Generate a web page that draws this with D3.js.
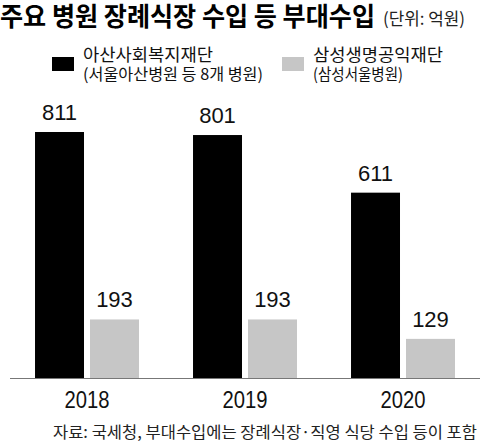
<!DOCTYPE html>
<html>
<head>
<meta charset="utf-8">
<script src="https://cdn.jsdelivr.net/npm/d3@7"></script>
<style>
  body { margin: 0; background: #fff; }
  .kr { font-family: "Noto Sans CJK KR", "Noto Sans", sans-serif; }
  .num { font-family: "Liberation Sans", Arial, sans-serif; }
</style>
</head>
<body>
<div id="chart"></div>
<script>
var years = ["2018", "2019", "2020"];
var seriesNames = ["아산사회복지재단", "삼성생명공익재단"];
var seriesSubs = ["(서울아산병원 등 8개 병원)", "(삼성서울병원)"];
var asan = [811, 801, 611];
var samsung = [193, 193, 129];
var colors = ["#000000", "#c6c6c6"];

var width = 480, height = 442;
var baseY = 378;

var svg = d3.select("#chart").append("svg")
    .attr("width", width)
    .attr("height", height);

// title
svg.append("text")
    .attr("class", "kr")
    .attr("x", 0)
    .attr("y", 26)
    .attr("font-size", 26)
    .attr("font-weight", 700)
    .attr("textLength", 375)
    .attr("lengthAdjust", "spacingAndGlyphs")
    .text("주요 병원 장례식장 수입 등 부대수입");

svg.append("text")
    .attr("class", "kr")
    .attr("x", 383)
    .attr("y", 25)
    .attr("font-size", 17)
    .attr("textLength", 82)
    .attr("lengthAdjust", "spacingAndGlyphs")
    .attr("fill", "#222")
    .text("(단위: 억원)");

// legend
var legendX = [52, 282];
var legend = svg.selectAll(".legend")
    .data(seriesNames)
    .join("g")
    .attr("class", "legend")
    .attr("transform", (d, i) => `translate(${legendX[i]},0)`);

legend.append("rect")
    .attr("x", 0).attr("y", 57)
    .attr("width", 22).attr("height", 14)
    .attr("fill", (d, i) => colors[i]);

var ltext = legend.append("text")
    .attr("class", "kr")
    .attr("fill", "#111");

ltext.append("tspan")
    .attr("x", 31).attr("y", 61)
    .attr("font-size", 17)
    .attr("textLength", 130)
    .attr("lengthAdjust", "spacingAndGlyphs")
    .text(d => d);

ltext.append("tspan")
    .attr("x", 31).attr("y", 80)
    .attr("font-size", 16)
    .attr("textLength", (d, i) => i == 0 ? 180 : 90)
    .attr("lengthAdjust", "spacingAndGlyphs")
    .text((d, i) => seriesSubs[i]);

// scales
var x0 = d3.scaleBand()
    .domain(years)
    .range([8, 482])
    .paddingInner(0.342)
    .paddingOuter(0.171);

var x1 = d3.scaleBand()
    .domain([0, 1])
    .range([0, x0.bandwidth()])
    .paddingInner(0.109);

var y = d3.scaleLinear()
    .domain([0, 811])
    .range([baseY, 132]);

var data = years.map((yr, i) => ({ year: yr, values: [asan[i], samsung[i]] }));

var groups = svg.selectAll(".grp")
    .data(data)
    .join("g")
    .attr("class", "grp")
    .attr("transform", d => `translate(${x0(d.year)},0)`);

groups.selectAll("rect")
    .data(d => d.values)
    .join("rect")
    .attr("x", (d, i) => x1(i))
    .attr("y", d => y(d))
    .attr("width", x1.bandwidth())
    .attr("height", d => baseY - y(d))
    .attr("fill", (d, i) => colors[i]);

groups.selectAll(".val")
    .data(d => d.values)
    .join("text")
    .attr("class", "val num")
    .attr("x", (d, i) => x1(i) + x1.bandwidth() / 2)
    .attr("y", d => y(d) - 12)
    .attr("text-anchor", "middle")
    .attr("font-size", 22)
    .attr("fill", "#111")
    .text(d => d);

// baseline
svg.append("line")
    .attr("x1", 10).attr("x2", 480)
    .attr("y1", baseY + 0.5).attr("y2", baseY + 0.5)
    .attr("stroke", "#777")
    .attr("stroke-width", 1);

// year labels
svg.selectAll(".year")
    .data(years)
    .join("text")
    .attr("class", "year num")
    .attr("x", d => x0(d) + x0.bandwidth() / 2 - 22.5)
    .attr("y", 408)
    .attr("font-size", 23)
    .attr("fill", "#111")
    .attr("textLength", 45)
    .attr("lengthAdjust", "spacingAndGlyphs")
    .text(d => d);

// source
svg.append("text")
    .attr("class", "kr")
    .attr("x", 53)
    .attr("y", 438)
    .attr("font-size", 16)
    .attr("fill", "#222")
    .attr("textLength", 424)
    .attr("lengthAdjust", "spacingAndGlyphs")
    .text("자료: 국세청, 부대수입에는 장례식장·직영 식당 수입 등이 포함");
</script>
</body>
</html>
